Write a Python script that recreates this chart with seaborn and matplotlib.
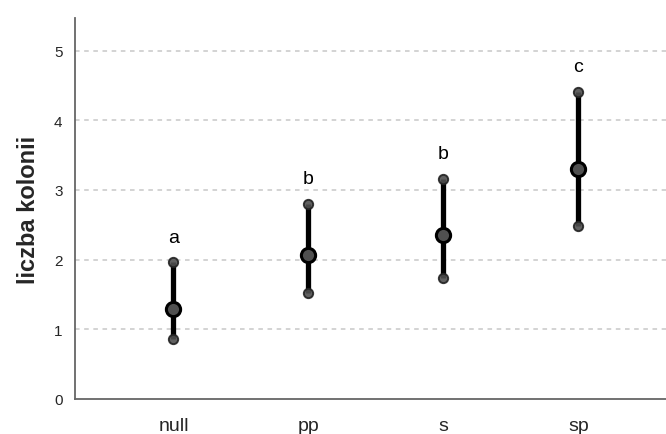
import matplotlib
matplotlib.use("Agg")
import matplotlib.pyplot as plt
import seaborn as sns
import pandas as pd

# Group means with lower / upper interval limits
groups = ["null", "pp", "s", "sp"]
means = [1.29, 2.07, 2.36, 3.30]
lower = [0.86, 1.52, 1.74, 2.49]
upper = [1.96, 2.80, 3.16, 4.41]
letters = ["a", "b", "b", "c"]
yticks = [0, 1, 2, 3, 4, 5]

sns.set_theme(style="white")
plt.rcParams["font.family"] = ["Liberation Sans", "DejaVu Sans"]

df = pd.DataFrame({"grupa": groups, "srednia": means, "dol": lower, "gora": upper})

fig = plt.figure(figsize=(6.66, 4.35), dpi=100)
ax = fig.add_axes([0.1126, 0.0805, 0.8874, 0.876])

# grid lines
for t in yticks[1:]:
    ax.axhline(t, color="#c8c8c8", lw=1.1, ls=(0, (3, 3)), zorder=0)

# interval bars
ax.vlines(df["grupa"], df["dol"], df["gora"], color="black", lw=3.8, zorder=2)

# interval end points
ends = pd.concat([
    df[["grupa"]].assign(y=df["dol"]),
    df[["grupa"]].assign(y=df["gora"]),
])
sns.scatterplot(data=ends, x="grupa", y="y", ax=ax, s=45, color="#505050",
                edgecolor="#222222", linewidth=1.4, alpha=0.9, zorder=3, legend=False)

# means
sns.scatterplot(data=df, x="grupa", y="srednia", ax=ax, s=105, color="#505050",
                edgecolor="black", linewidth=2.2, zorder=4, legend=False)

# significance letters
for g, u, l in zip(groups, upper, letters):
    ax.text(g, u + 0.24, l, ha="center", va="bottom", fontsize=14, color="black")

ax.set_xlim(-0.73, 3.65)
ax.set_ylim(0, 5.47)
ax.set_yticks(yticks)
ax.set_yticklabels([str(t) for t in yticks], fontsize=11)
ax.tick_params(axis="x", labelsize=14, length=0, pad=13)
ax.tick_params(axis="y", length=0, pad=9)
ax.set_xlabel("")
ax.set_ylabel("liczba kolonii", fontsize=17, fontweight="bold", labelpad=10)

for side in ["top", "right"]:
    ax.spines[side].set_visible(False)
for side in ["left", "bottom"]:
    ax.spines[side].set_color("#666666")
    ax.spines[side].set_linewidth(1.3)

fig.savefig("out.png", dpi=100)
